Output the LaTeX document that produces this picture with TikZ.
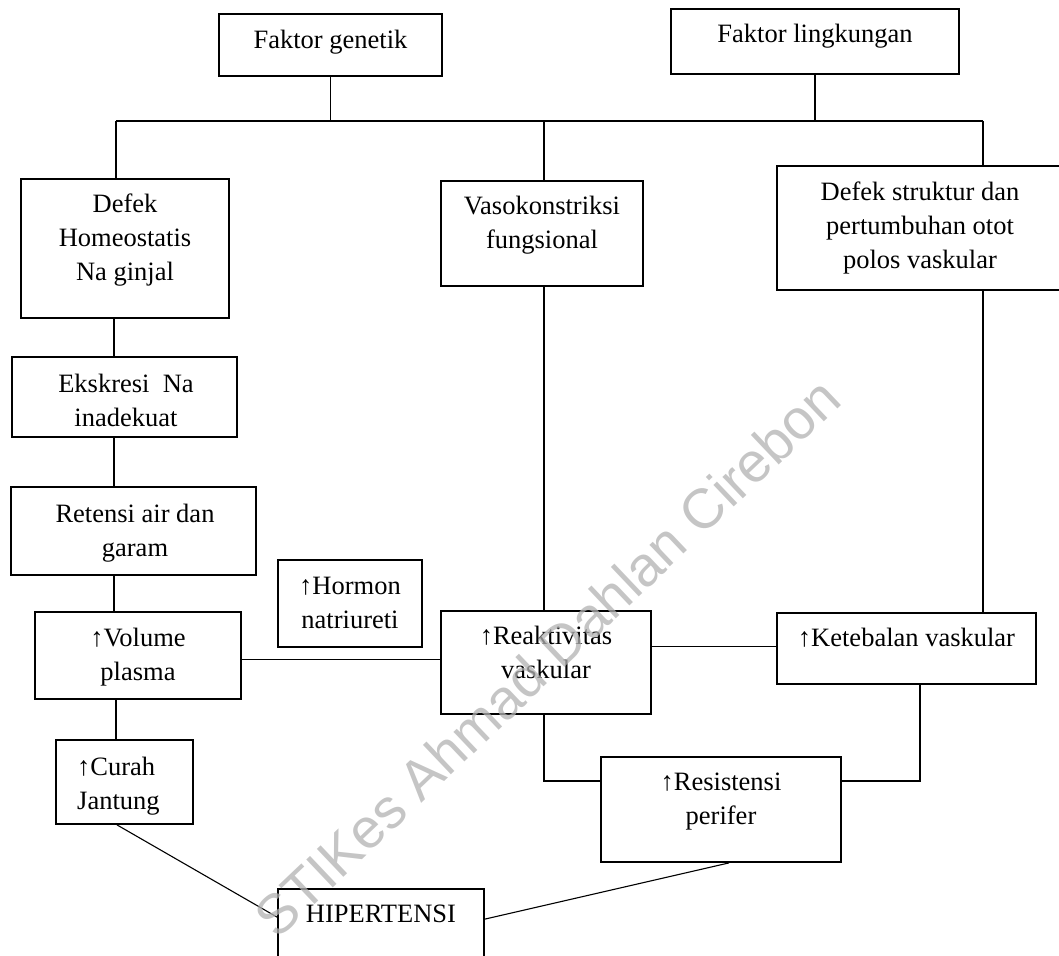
\documentclass[tikz,border=0pt]{standalone}
\usepackage{fontspec}
\setmainfont{Liberation Serif}
\newfontfamily\wmfont{Liberation Sans}
\usetikzlibrary{fit,calc}
\newcommand\mylinesc[1]{\begin{tabular}[t]{@{}c@{}}#1\end{tabular}}
\newcommand\mylinesl[1]{\begin{tabular}[t]{@{}l@{}}#1\end{tabular}}
\begin{document}
\begin{tikzpicture}[x=1pt,y=-1pt,
  box/.style={draw, line width=1.8pt, inner sep=0pt, rectangle},
  txt/.style={anchor=base, inner sep=0pt, font=\fontsize{26.5}{34}\selectfont},
  conn/.style={line width=1.1pt}]
\useasboundingbox (0,0) rectangle (1059,955);
\clip (0,0) rectangle (1059,955);
% boxes
\node[box, fit={(219,14) (442,76)}] (gen) {};
\node[box, fit={(671,9) (959,74)}] (ling) {};
\node[box, fit={(21,179) (229,318)}] (defek) {};
\node[box, fit={(441,181) (643,286)}] (vaso) {};
\node[box, fit={(777,166) (1068,290)}] (struk) {};
\node[box, fit={(12,357) (237,437)}] (eks) {};
\node[box, fit={(11,487) (256,575)}] (ret) {};
\node[box, fit={(278,560) (422,647)}] (hor) {};
\node[box, fit={(35,612) (241,699)}] (vol) {};
\node[box, fit={(441,611) (651,714)}] (reak) {};
\node[box, fit={(777,613) (1036,684)}] (keteb) {};
\node[box, fit={(56,740) (193,824)}] (curah) {};
\node[box, fit={(601,757) (841,862)}] (resis) {};
\node[box, fit={(278,889) (484,980)}] (hip) {};
% texts
\node[txt] (genT) at ($(gen.north)+(0,35)$) {Faktor genetik};
\node[txt] (lingT) at ($(ling.north)+(0,34)$) {Faktor lingkungan};
\node[txt] (defekT) at ($(defek.north)+(0,34)$) {\mylinesc{Defek\\Homeostatis\\Na ginjal}};
\node[txt] (vasoT) at ($(vaso.north)+(0,34)$) {\mylinesc{Vasokonstriksi\\fungsional}};
\node[txt] (strukT) at (920,200) {\mylinesc{Defek struktur dan\\pertumbuhan otot\\polos vaskular}};
\node[txt] (eksT) at (126,392) {\mylinesc{Ekskresi\ \ Na\\inadekuat}};
\node[txt] (retT) at (135,522) {\mylinesc{Retensi air dan\\garam}};
\node[txt] (horT) at ($(hor.north)+(0,35)$) {\mylinesc{↑Hormon\\natriureti}};
\node[txt] (volT) at ($(vol.north)+(0,35)$) {\mylinesc{↑Volume\\plasma}};
\node[txt] (reakT) at ($(reak.north)+(0,34)$) {\mylinesc{↑Reaktivitas\\vaskular}};
\node[txt] (ketebT) at ($(keteb.north)+(0,34)$) {↑Ketebalan vaskular};
\node[txt, anchor=base west] (curahT) at (77,775) {\mylinesl{↑Curah\\Jantung}};
\node[txt] (resisT) at ($(resis.north)+(0,34)$) {\mylinesc{↑Resistensi\\perifer}};
\node[txt] (hipT) at ($(hip.north)+(0,34)$) {HIPERTENSI};
% junction coordinates
\coordinate (hL) at (116,121);
\coordinate (hR) at (983,121);
\coordinate (lx) at (114,0);
\coordinate (lx2) at (116,0);
\coordinate (vx) at (544,0);
\coordinate (kx) at (920,0);
\coordinate (rx) at (729,0);
\coordinate (cx) at (117,0);
\coordinate (y781) at (0,781);
% connectors
\draw[conn] (gen.south) -- (gen.south |- hL);
\draw[conn] (ling.south) -- (ling.south |- hL);
\draw[conn] (hL) -- (hR);
\draw[conn] (hL) -- (hL |- defek.north);
\draw[conn] (vx |- hL) -- (vx |- vaso.north);
\draw[conn] (hR) -- (hR |- struk.north);
\draw[conn] (lx |- defek.south) -- (lx |- eks.north);
\draw[conn] (lx |- eks.south) -- (lx |- ret.north);
\draw[conn] (lx |- ret.south) -- (lx |- vol.north);
\draw[conn] (lx2 |- vol.south) -- (lx2 |- curah.north);
\draw[conn] (vx |- vaso.south) -- (vx |- reak.north);
\draw[conn] (hR |- struk.south) -- (hR |- keteb.north);
\draw[conn] ($(vol.east |- vol.north)+(0,48)$) -- ($(reak.west |- reak.north)+(0,49)$);
\draw[conn] ($(reak.east |- reak.north)+(0,36)$) -- ($(keteb.west |- keteb.north)+(0,34)$);
\draw[conn] (vx |- reak.south) |- (resis.west |- y781);
\draw[conn] (kx |- keteb.south) |- (resis.east |- y781);
\draw[conn] (cx |- curah.south) -- ($(hip.west |- hip.north)+(0,29)$);
\draw[conn] (rx |- resis.south) -- ($(hip.east |- hip.north)+(0,31)$);
% watermark
\node[rotate=43.5, text=gray!60, opacity=0.75, inner sep=0pt,
      font=\wmfont\fontsize{56}{60}\selectfont] (wm) at (547,657) {STIKes Ahmad Dahlan Cirebon};
\end{tikzpicture}
\end{document}
